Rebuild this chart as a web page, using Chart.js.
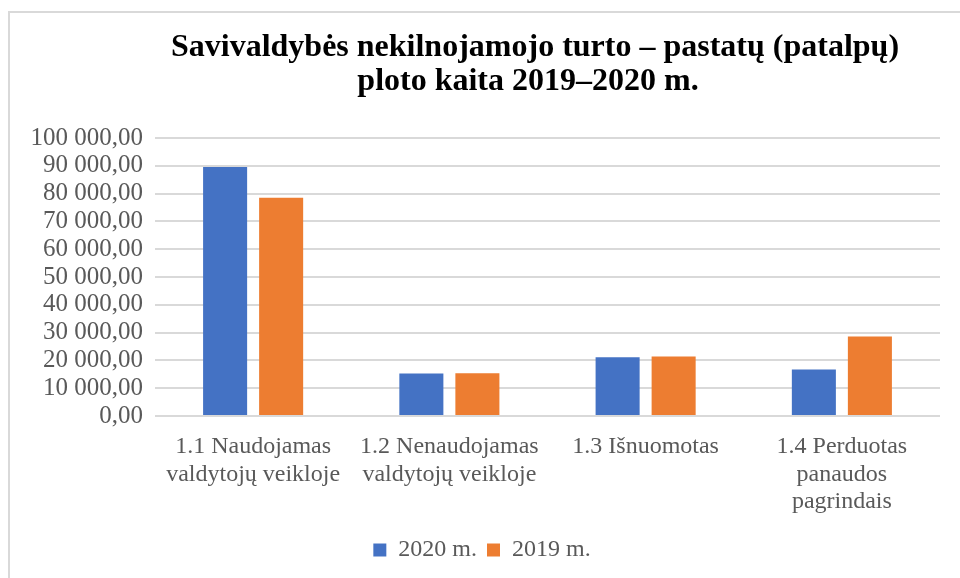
<!DOCTYPE html>
<html>
<head>
<meta charset="utf-8">
<script src="https://cdn.jsdelivr.net/npm/chart.js@4"></script>
<style>
  html, body { margin: 0; padding: 0; background: #fff; overflow: hidden; }
  #frame { position: absolute; left: 8px; top: 11px; width: 2000px; height: 2000px;
    border-left: 2px solid #d9d9d9; border-top: 2px solid #d9d9d9; }
  #wrap { position: absolute; left: 0; top: 0; width: 960px; height: 578px; }
</style>
</head>
<body>
<div id="frame"></div>
<div id="wrap"><canvas id="chart"></canvas></div>
<script>
// chart data
const titleLines = ['Savivaldybės nekilnojamojo turto – pastatų (patalpų)', 'ploto kaita 2019–2020 m.'];
const categories = [
	['1.1 Naudojamas', 'valdytojų veikloje'],
	['1.2 Nenaudojamas', 'valdytojų veikloje'],
	'1.3 Išnuomotas',
	['1.4 Perduotas', 'panaudos', 'pagrindais']
];
const seriesNames = ['2020 m.', '2019 m.'];
const values2020 = [89600, 15300, 21100, 16700];
const values2019 = [78500, 15400, 21400, 28600];
const yMax = 100000;
const yStep = 10000;

const SERIF = '"Liberation Serif", "Times New Roman", Times, "DejaVu Serif", serif';

function fmt(v) {
	return String(v).replace(/\B(?=(\d{3})+(?!\d))/g, ' ') + ',00';
}

// title is drawn off-centre like the original, so do it by hand
const titlePlugin = {
	id: 'offTitle',
	afterDraw: function(chart) {
		let ctx = chart.ctx;
		ctx.save();
		ctx.fillStyle = '#000';
		ctx.font = 'bold 32px ' + SERIF;
		ctx.textAlign = 'center';
		ctx.textBaseline = 'middle';
		ctx.fillText(titleLines[0], 535, 48);
		ctx.fillText(titleLines[1], 528, 82);
		ctx.restore();
	}
};

let ctx = document.getElementById('chart').getContext('2d');
new Chart(ctx, {
	type: 'bar',
	data: {
		labels: categories,
		datasets: [{
			label: seriesNames[0],
			data: values2020,
			backgroundColor: '#4472C4',
			barPercentage: 0.786,
			categoryPercentage: 0.571
		}, {
			label: seriesNames[1],
			data: values2019,
			backgroundColor: '#ED7D31',
			barPercentage: 0.786,
			categoryPercentage: 0.571
		}]
	},
	options: {
		responsive: true,
		maintainAspectRatio: false,
		animation: false,
		layout: {
			padding: { left: 24, right: 20, top: 138, bottom: 6 }
		},
		plugins: {
			title: { display: false },
			tooltip: { enabled: false },
			legend: {
				position: 'bottom',
				labels: {
					boxWidth: 13,
					boxHeight: 13,
					padding: 10,
					color: '#595959',
					font: { family: SERIF, size: 24 }
				}
			}
		},
		scales: {
			x: {
				grid: { display: false },
				border: { display: false },
				ticks: {
					color: '#595959',
					maxRotation: 0,
					autoSkip: false,
					padding: 9,
					font: { family: SERIF, size: 24, lineHeight: 1.15 }
				},
				afterFit: function(scale) { scale.height = 112; }
			},
			y: {
				min: 0,
				max: yMax,
				border: { display: false },
				grid: { color: '#d9d9d9', lineWidth: 2, drawTicks: false },
				ticks: {
					stepSize: yStep,
					autoSkip: false,
					color: '#595959',
					padding: 12,
					font: { family: SERIF, size: 25, lineHeight: 1 },
					callback: function(v) { return fmt(v); }
				},
				afterFit: function(scale) { scale.width = 131; }
			}
		}
	},
	plugins: [titlePlugin]
});
</script>
</body>
</html>
